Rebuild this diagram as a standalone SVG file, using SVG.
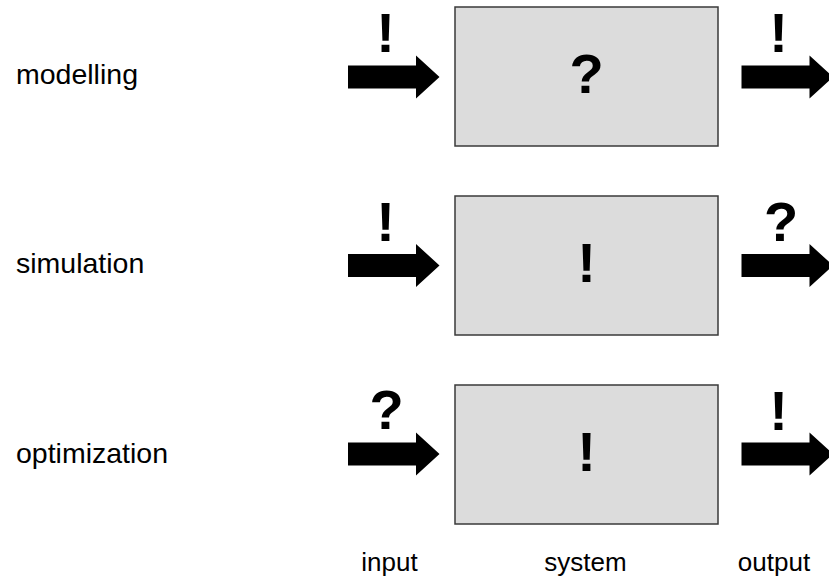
<svg xmlns="http://www.w3.org/2000/svg" xmlns:xlink="http://www.w3.org/1999/xlink" width="829" height="577" viewBox="0 0 829 577">
<style>
.box{fill:#dcdcdc;stroke:#3a3a3a;stroke-width:1.5}
.sym{font-family:"Liberation Sans",Arial,sans-serif;font-weight:bold;font-size:56px;fill:#000;text-anchor:middle}
.lbl{font-family:"Liberation Sans",Arial,sans-serif;font-size:28.5px;fill:#000}
.bot{font-family:"Liberation Sans",Arial,sans-serif;font-size:26px;fill:#000;text-anchor:middle}
</style>
<defs>
<path id="arrow" d="M0,-11.5 H68 V-21.5 L91.5,0 L68,21.5 V11.5 H0 Z" fill="#000"/>
</defs>
<rect width="829" height="577" fill="#fff"/>
<g id="row-labels">
<text class="lbl" x="16" y="83.5">modelling</text>
<text class="lbl" x="16" y="273">simulation</text>
<text class="lbl" x="16" y="462.5">optimization</text>
</g>
<g id="connectors">
<use xlink:href="#arrow" href="#arrow" transform="translate(348,77)"/>
<use xlink:href="#arrow" href="#arrow" transform="translate(741.5,77)"/>
<use xlink:href="#arrow" href="#arrow" transform="translate(348,265.5)"/>
<use xlink:href="#arrow" href="#arrow" transform="translate(741.5,265.5)"/>
<use xlink:href="#arrow" href="#arrow" transform="translate(348,454)"/>
<use xlink:href="#arrow" href="#arrow" transform="translate(741.5,454)"/>
<text class="sym" x="385.5" y="51.5">!</text>
<text class="sym" x="778.5" y="51.5">!</text>
<text class="sym" x="385.5" y="240.5">!</text>
<text class="sym" x="781" y="240.5">?</text>
<text class="sym" x="386.5" y="428.5">?</text>
<text class="sym" x="778.5" y="429.5">!</text>
</g>
<g id="node-modelling">
<rect class="box" x="455" y="7" width="263" height="139"/>
<text class="sym" x="586.5" y="93">?</text>
</g>
<g id="node-simulation">
<rect class="box" x="455" y="196" width="263" height="139"/>
<text class="sym" x="586.5" y="282">!</text>
</g>
<g id="node-optimization">
<rect class="box" x="455" y="385" width="263" height="139"/>
<text class="sym" x="586.5" y="471">!</text>
</g>
<g id="axis-labels">
<text class="bot" x="389.5" y="571">input</text>
<text class="bot" x="585.5" y="571">system</text>
<text class="bot" x="774" y="571">output</text>
</g>
</svg>
